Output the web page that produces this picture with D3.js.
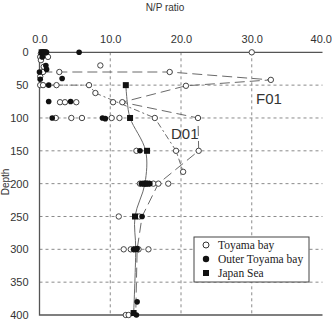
<!DOCTYPE html>
<html>
<head>
<meta charset="utf-8">
<script src="https://cdn.jsdelivr.net/npm/d3@7"></script>
<style>
  body { margin: 0; background: #fff; }
  svg { display: block; }
</style>
</head>
<body>
<div id="plot"></div>
<script>
// N/P ratio vs depth, points are [N/P, depth]
const xTicks = [0, 10, 20, 30, 40];
const yTicks = [0, 50, 100, 150, 200, 250, 300, 350, 400];

const toyamaBay = [
    [30.0, 0], [0.2, 2], [0.1, 7], [1.2, 7], [0.2, 12], [8.6, 20], [0.6, 22],
    [0.5, 30], [2.8, 30], [18.4, 30], [32.7, 42], [0.1, 37], [0.1, 50], [0.5, 50],
    [2.4, 50], [7.0, 50], [20.7, 51], [7.9, 62],
    [2.9, 76], [3.6, 76], [5.2, 76], [10.4, 76], [11.7, 76],
    [2.3, 100], [4.5, 100], [6.0, 100], [10.2, 100], [11.3, 100], [16.3, 100], [22.4, 100],
    [13.7, 150], [19.3, 150], [22.5, 150], [20.3, 182],
    [14.2, 200], [16.1, 200], [16.8, 200], [18.2, 200],
    [11.2, 250], [14.1, 250],
    [11.9, 300], [12.9, 300], [14.0, 300], [15.4, 300],
    [12.2, 400], [12.6, 400]
];

const outerToyamaBay = [
    [0.5, 0], [1.0, 0], [5.6, 0], [0.4, 7], [0.9, 20], [1.0, 26], [0.0, 30], [3.2, 40],
    [0.1, 41], [1.3, 50], [1.3, 75], [4.4, 75], [1.8, 100], [8.9, 100], [9.3, 101],
    [14.2, 150], [14.4, 200], [14.8, 200], [15.6, 200], [14.5, 250],
    [13.3, 300], [13.8, 299], [13.8, 380], [13.7, 400]
];

const japanSea = [
    [0.3, 0], [0.5, 0], [0.7, 0], [12.2, 50], [12.8, 100], [15.2, 150],
    [14.9, 200], [15.2, 200], [13.5, 250], [13.6, 300], [13.3, 397]
];

const f01Line = [
    [0.4, 30], [2.8, 30], [18.4, 30], [32.7, 42], [20.7, 51], [11.7, 76],
    [22.4, 100], [22.5, 150], [16.8, 200], [14.5, 250], [13.8, 300], [13.6, 400]
];

const d01Line = [
    [0.5, 50], [2.4, 50], [7.0, 50], [7.9, 62], [16.3, 100], [19.3, 150], [20.3, 182]
];

const japanSeaLine = [
    [12.2, 50], [12.4, 75], [12.8, 100], [15.0, 150], [14.9, 200], [13.5, 250],
    [13.6, 300], [13.3, 400]
];

const legendItems = ["Toyama bay", "Outer Toyama bay", "Japan Sea"];

const width = 332, height = 326;
const svg = d3.select("#plot").append("svg")
    .attr("width", width)
    .attr("height", height);

const x = d3.scaleLinear().domain([0, 40]).range([39.5, 322.5]);
const y = d3.scaleLinear().domain([0, 400]).range([52.3, 315]);

const grey = "#8a8a8a";
const lineGrey = "#6a6a6a";

// grid
svg.append("g")
    .selectAll("line")
    .data(xTicks.filter(d => d > 0 && d < 40))
    .join("line")
    .attr("x1", d => x(d)).attr("x2", d => x(d))
    .attr("y1", y(0)).attr("y2", y(400))
    .attr("stroke", grey)
    .attr("stroke-dasharray", "3,3")
    .attr("stroke-width", 1);

svg.append("g")
    .selectAll("line")
    .data(yTicks.filter(d => d > 0 && d < 400))
    .join("line")
    .attr("x1", x(0)).attr("x2", x(40))
    .attr("y1", d => y(d)).attr("y2", d => y(d))
    .attr("stroke", grey)
    .attr("stroke-dasharray", "3,3")
    .attr("stroke-width", 1);

// frame: top, left, bottom
svg.append("path")
    .attr("d", `M${x(40)},${y(0)}H${x(0)}V${y(400)}H${x(40)}`)
    .attr("fill", "none")
    .attr("stroke", "#555")
    .attr("stroke-width", 1.3);

// axes
const xAxis = svg.append("g")
    .attr("transform", `translate(0,${y(0) - 6})`)
    .call(d3.axisTop(x).tickValues(xTicks).tickSize(0).tickFormat(d3.format(".1f")));
xAxis.select(".domain").remove();
xAxis.selectAll("text")
    .attr("font-family", "Liberation Sans, Arial, sans-serif")
    .attr("font-size", 11)
    .attr("fill", "#333");
// last label sits at the window edge, keep it inside
xAxis.selectAll("text").filter(d => d === 40)
    .attr("text-anchor", "end")
    .attr("dx", 9);

const yAxis = svg.append("g")
    .attr("transform", `translate(${x(0) - 8},0)`)
    .call(d3.axisLeft(y).tickValues(yTicks).tickSize(0));
yAxis.select(".domain").remove();
yAxis.selectAll("text")
    .attr("font-family", "Liberation Sans, Arial, sans-serif")
    .attr("font-size", 11)
    .attr("fill", "#333");

svg.append("text")
    .attr("x", 165).attr("y", 11)
    .attr("text-anchor", "middle")
    .attr("font-family", "Liberation Sans, Arial, sans-serif")
    .attr("font-size", 10)
    .attr("fill", "#333")
    .text("N/P ratio");

svg.append("text")
    .attr("transform", "translate(9,182) rotate(-90)")
    .attr("text-anchor", "middle")
    .attr("font-family", "Liberation Sans, Arial, sans-serif")
    .attr("font-size", 10)
    .attr("fill", "#333")
    .text("Depth");

// profile lines
const line = d3.line().x(d => x(d[0])).y(d => y(d[1]));

svg.append("path")
    .datum(f01Line)
    .attr("d", line)
    .attr("fill", "none")
    .attr("stroke", lineGrey)
    .attr("stroke-width", 1)
    .attr("stroke-dasharray", "10,5");

svg.append("path")
    .datum(d01Line)
    .attr("d", line)
    .attr("fill", "none")
    .attr("stroke", lineGrey)
    .attr("stroke-width", 1)
    .attr("stroke-dasharray", "6,3,2,3");

svg.append("path")
    .datum(japanSeaLine)
    .attr("d", line.curve(d3.curveCatmullRom))
    .attr("fill", "none")
    .attr("stroke", lineGrey)
    .attr("stroke-width", 1);

// points
svg.append("g")
    .selectAll("circle")
    .data(toyamaBay)
    .join("circle")
    .attr("cx", d => x(d[0])).attr("cy", d => y(d[1]))
    .attr("r", 2.7)
    .attr("fill", "#fff")
    .attr("stroke", "#444")
    .attr("stroke-width", 1);

svg.append("g")
    .selectAll("circle")
    .data(outerToyamaBay)
    .join("circle")
    .attr("cx", d => x(d[0])).attr("cy", d => y(d[1]))
    .attr("r", 2.8)
    .attr("fill", "#111");

svg.append("g")
    .selectAll("rect")
    .data(japanSea)
    .join("rect")
    .attr("x", d => x(d[0]) - 3).attr("y", d => y(d[1]) - 3)
    .attr("width", 6).attr("height", 6)
    .attr("fill", "#111");

// labels
svg.append("text")
    .attr("x", 256).attr("y", 104)
    .attr("font-family", "Liberation Sans, Arial, sans-serif")
    .attr("font-size", 15)
    .attr("fill", "#333")
    .text("F01");

svg.append("text")
    .attr("x", 171).attr("y", 139)
    .attr("font-family", "Liberation Sans, Arial, sans-serif")
    .attr("font-size", 15)
    .attr("fill", "#333")
    .text("D01");

// legend
const legend = svg.append("g").attr("transform", "translate(194,237)");
legend.append("rect")
    .attr("width", 115).attr("height", 45)
    .attr("fill", "#fff")
    .attr("stroke", "#444")
    .attr("stroke-width", 1);

const rows = legend.selectAll("g")
    .data(legendItems)
    .join("g")
    .attr("transform", (d, i) => `translate(0,${8 + i * 14})`);

rows.each(function (d, i) {
    const g = d3.select(this);
    if (i === 0) {
        g.append("circle").attr("cx", 12).attr("cy", 0).attr("r", 3)
            .attr("fill", "#fff").attr("stroke", "#333");
    } else if (i === 1) {
        g.append("circle").attr("cx", 12).attr("cy", 0).attr("r", 3.2).attr("fill", "#111");
    } else {
        g.append("rect").attr("x", 9).attr("y", -3).attr("width", 6).attr("height", 6).attr("fill", "#111");
    }
    g.append("text")
        .attr("x", 24).attr("y", 4)
        .attr("font-family", "Liberation Serif, Times New Roman, serif")
        .attr("font-size", 11.5)
        .attr("fill", "#222")
        .text(d);
});
</script>
</body>
</html>
